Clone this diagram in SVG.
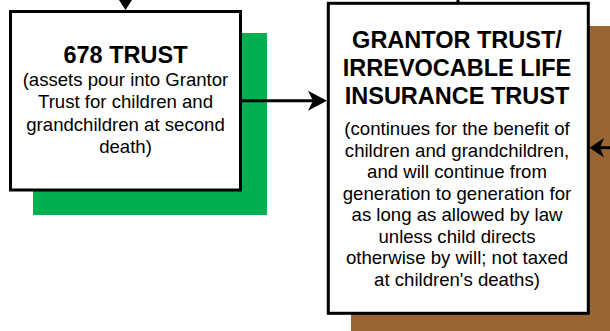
<svg xmlns="http://www.w3.org/2000/svg" width="610" height="331" viewBox="0 0 610 331">
<style>
.box{fill:#fff;stroke:#000;stroke-width:3}
.t{font-family:"Liberation Sans",Arial,sans-serif;font-weight:bold;font-size:23.5px;text-anchor:middle;fill:#000}
.b{font-family:"Liberation Sans",Arial,sans-serif;font-size:18.6px;text-anchor:middle;fill:#000}
.ln{stroke:#000;stroke-width:3;fill:none}
</style>
<rect width="610" height="331" fill="#fff"/>
<g id="node-678">
<rect x="33" y="33" width="234" height="182" fill="#00b050"/>
<rect class="box" x="10.5" y="11.5" width="230" height="178.5"/>
<text class="t" x="125.5" y="63">678 TRUST</text>
<text class="b" x="125.5" y="86">(assets pour into Grantor</text>
<text class="b" x="125.5" y="108.3">Trust for children and</text>
<text class="b" x="125.5" y="130.6">grandchildren at second</text>
<text class="b" x="125.5" y="152.9">death)</text>
</g>
<g id="node-grantor">
<rect x="351" y="26" width="259" height="305" fill="#996633"/>
<rect class="box" x="328.3" y="3.3" width="260" height="310"/>
<text class="t" x="457" y="48">GRANTOR TRUST/</text>
<text class="t" x="457" y="76">IRREVOCABLE LIFE</text>
<text class="t" x="457" y="103.5">INSURANCE TRUST</text>
<text class="b" x="457" y="135">(continues for the benefit of</text>
<text class="b" x="457" y="156.5">children and grandchildren,</text>
<text class="b" x="457" y="178">and will continue from</text>
<text class="b" x="457" y="199.5">generation to generation for</text>
<text class="b" x="457" y="221">as long as allowed by law</text>
<text class="b" x="457" y="242.5">unless child directs</text>
<text class="b" x="457" y="264">otherwise by will; not taxed</text>
<text class="b" x="457" y="285.5">at children's deaths)</text>
</g>
<g id="connectors">
<line class="ln" x1="125.5" y1="-5" x2="125.5" y2="4"/>
<polygon points="119,0 132,0 125.5,10"/>
<line class="ln" x1="458" y1="-5" x2="458" y2="3"/>
<line class="ln" x1="242" y1="100.7" x2="315" y2="100.7"/>
<polygon points="308,90.7 327,100.7 308,110.7 313,100.7"/>
<line class="ln" x1="598" y1="147.7" x2="612" y2="147.7"/>
<polygon points="604,138 589.5,147.7 604,157.5 600,147.7"/>
</g>
</svg>
